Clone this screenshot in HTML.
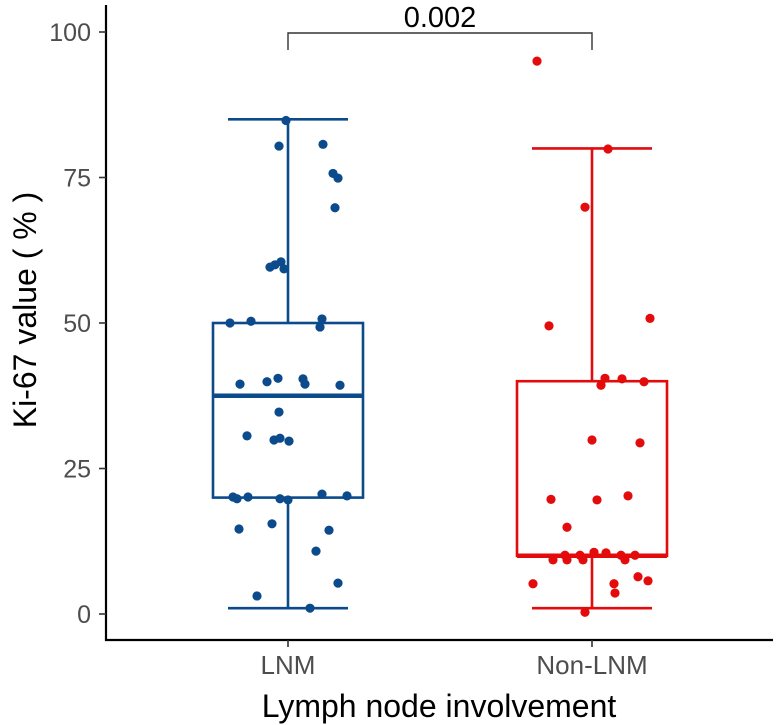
<!DOCTYPE html>
<html><head><meta charset="utf-8"><style>
body{margin:0;background:#fff;}
svg{display:block;font-family:"Liberation Sans",Arial,sans-serif;}
</style></head><body>
<svg id="chart" width="778" height="725" viewBox="0 0 778 725" xmlns="http://www.w3.org/2000/svg">
<g id="plot"></g>
</svg>
<script>
const categories = ["LNM", "Non-LNM"];
const colors = ["#0b4a8b", "#e30b0b"];
const yTicks = [0, 25, 50, 75, 100];
const boxQ1 = [20, 10];
const boxMedian = [37.5, 10];
const boxQ3 = [50, 40];
const whiskerLow = [1, 1];
const whiskerHigh = [85, 80];
const lnmValues = [84.8,80.4,80.7,75.7,74.9,69.8,59.6,60,60.5,59.3,50,50.3,50.7,49.3,39.5,39.9,40.5,40.4,39.5,39.3,34.7,30.6,29.9,30.2,29.7,20.1,19.8,20.1,19.8,19.6,20.6,20.3,14.6,15.5,14.4,10.8,5.3,3.1,1.0];
const lnmJitter = [-2,-9,35,45,50,47,-18,-13,-7,-4,-58,-37,34,32,-48,-21,-10,15,17,52,-9,-41,-14,-8,1,-55,-51,-40,-8,0,34,59,-49,-16,41,28,50,-31,22];
const nonValues = [95,79.9,69.9,49.5,50.8,40.5,39.3,40.4,39.9,29.9,29.4,19.7,19.6,20.3,14.9,9.3,10.1,9.3,10.1,9.3,10.6,10.5,10.1,9.3,10.1,5.2,5.2,3.6,6.4,5.7,0.3];
const nonJitter = [-55,16,-7,-43,58,13,9,30,52,0,48,-41,5,36,-25,-39,-27,-25,-12,-9,2,14,29,33,43,-59,22,23,46,56,-7];
const pValue = "0.002";

const NS = "http://www.w3.org/2000/svg";
const plot = document.getElementById("plot");
const y = v => 614 - v * 5.82;
const x = c => 288 + c * 304;
function mk(tag, attrs, parent) {
  const el = document.createElementNS(NS, tag);
  for (const k in attrs) el.setAttribute(k, attrs[k]);
  (parent || plot).appendChild(el);
  return el;
}
let el = mk("line", {x1:106,y1:5,x2:106,y2:641,stroke:"#000","stroke-width":2.2});


el = mk("line", {x1:105,y1:640,x2:773,y2:640,stroke:"#000","stroke-width":2.2});


yTicks.forEach(t => {
  let tk = mk("line", {x1:99,x2:106,y1:y(t),y2:y(t),stroke:"#333","stroke-width":1.6});
  
  
  let tl = mk("text", {x:91,y:y(t)+9,"text-anchor":"end","font-size":25,fill:"#4d4d4d"});
  tl.textContent = t;
  
  
});
categories.forEach((c, i) => {
  let tk = mk("line", {x1:x(i),x2:x(i),y1:640,y2:647,stroke:"#333","stroke-width":1.6});
  
  
  let tl = mk("text", {x:x(i),y:674,"text-anchor":"middle","font-size":26,fill:"#4d4d4d"});
  tl.textContent = c;
  
  
});
el = mk("text", {x:439,y:717,"text-anchor":"middle","font-size":32,fill:"#000"});
el.textContent = "Lymph node involvement";


el = mk("text", {x:0,y:0,"text-anchor":"middle","font-size":32,fill:"#000",transform:"translate(36,310) rotate(-90)"});
el.textContent = "Ki-67 value ( % )";


categories.forEach((c, i) => {
  const g = mk("g", {stroke:colors[i],"stroke-width":2.6,fill:"none"});
  
  
  const cx = x(i);
  mk("line",{x1:cx,x2:cx,y1:y(whiskerHigh[i]),y2:y(boxQ3[i])},g);
  mk("line",{x1:cx,x2:cx,y1:y(boxQ1[i]),y2:y(whiskerLow[i])},g);
  mk("line",{x1:cx-60,x2:cx+60,y1:y(whiskerHigh[i]),y2:y(whiskerHigh[i])},g);
  mk("line",{x1:cx-60,x2:cx+60,y1:y(whiskerLow[i]),y2:y(whiskerLow[i])},g);
  mk("rect",{x:cx-75,y:y(boxQ3[i]),width:150,height:y(boxQ1[i])-y(boxQ3[i])},g);
  mk("line",{x1:cx-75,x2:cx+75,y1:y(boxMedian[i]),y2:y(boxMedian[i]),"stroke-width":4.5},g);
});
[[lnmValues, lnmJitter], [nonValues, nonJitter]].forEach(([vals, jit], i) => {
  vals.forEach((v, k) => {
    const p = mk("circle", {cx:x(i + jit[k]/304), cy:y(v), r:4.6, fill:colors[i]});
    
    
  });
});
el = mk("path", {d:`M${x(0)},50 V33 H${x(1)} V50`, stroke:"#333","stroke-width":1.4,fill:"none"});


el = mk("text", {x:(x(0)+x(1))/2,y:27,"text-anchor":"middle","font-size":29,fill:"#000"});
el.textContent = pValue;


</script>
</body></html>
